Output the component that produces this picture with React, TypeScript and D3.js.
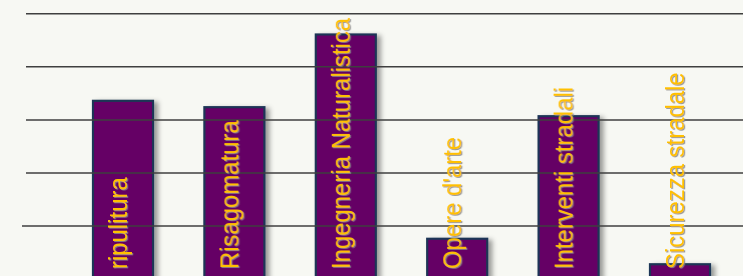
import React from "react";
import * as d3 from "d3";

const categories = [
  "ripulitura",
  "Risagomatura",
  "Ingegneria Naturalistica",
  "Opere d'arte",
  "Interventi stradali",
  "Sicurezza stradale",
];
const values = [3.36, 3.24, 4.61, 0.76, 3.07, 0.28];
const gridValues = [1, 2, 3, 4, 5];

const W = 743;
const H = 276;

export default function App() {
  const x = d3
    .scaleBand<string>()
    .domain(categories)
    .range([67.3, 735.7])
    .paddingInner(0.4614)
    .paddingOuter(0.2307);
  const y = d3.scaleLinear().domain([0, 5]).range([279.1, 13.8]);
  const bw = x.bandwidth();

  return (
    <div style={{ position: "absolute", left: 0, top: 0 }}>
      <svg width={W} height={H} style={{ display: "block" }}>
        <defs>
          <filter id="barShadow" x="-20%" y="-20%" width="150%" height="150%">
            <feDropShadow dx={4} dy={2} stdDeviation={2.5} floodColor="#000" floodOpacity={0.38} />
          </filter>
          <filter id="txtShadow" x="-20%" y="-20%" width="140%" height="140%">
            <feDropShadow dx={1.2} dy={1} stdDeviation={0.6} floodColor="#8a8a8a" floodOpacity={0.85} />
          </filter>
        </defs>
        <rect x={0} y={0} width={W} height={H} fill="#f7f8f3" />
        <g filter="url(#barShadow)">
          {categories.map((c, i) => (
            <rect
              key={c}
              x={x(c)}
              y={y(values[i])}
              width={bw}
              height={y(0) - y(values[i]) + 10}
              fill="#650065"
              stroke="#1e3556"
              strokeWidth={2.2}
            />
          ))}
        </g>
        {gridValues.map((v, i) => (
          <line
            key={v}
            x1={i === 0 ? 22 : 26}
            x2={W}
            y1={y(v)}
            y2={y(v)}
            stroke="#3f3f3f"
            strokeWidth={1.5}
          />
        ))}
        <g filter="url(#txtShadow)">
          {categories.map((c) => (
            <text
              key={c}
              transform={`translate(${(x(c) as number) + bw / 2 + 4},269) rotate(-90) scale(0.92,1)`}
              fill="#ffc000"
              fontFamily="'Liberation Sans', Arial, sans-serif"
              fontSize={26}
              textAnchor="start"
            >
              {c}
            </text>
          ))}
        </g>
      </svg>
    </div>
  );
}
